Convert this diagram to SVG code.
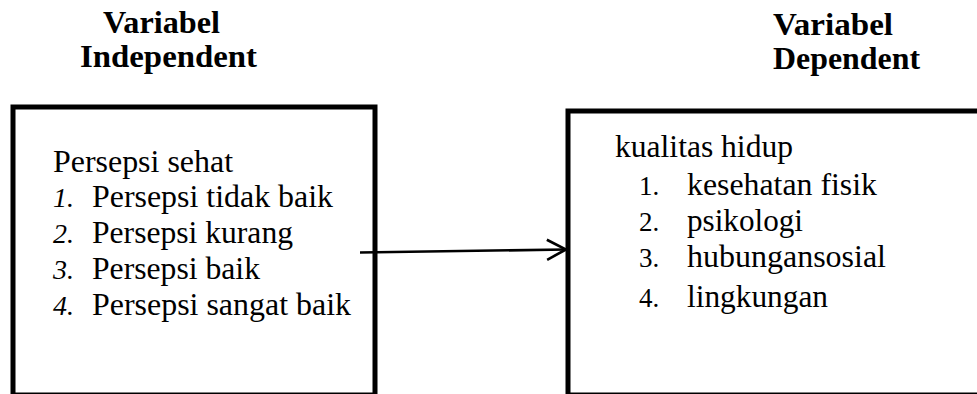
<svg xmlns="http://www.w3.org/2000/svg" width="977" height="394" viewBox="0 0 977 394">
  <style>
    .box { fill: none; stroke: #000; stroke-width: 5; }
    text { font-family: "Liberation Serif", "Times New Roman", serif; fill: #000; }
    .head { font-weight: bold; font-size: 32px; }
    .txt { font-size: 32px; }
    .num { font-size: 28px; font-style: italic; }
    .num2 { font-size: 27px; }
    .link { fill: none; stroke: #000; stroke-width: 2.6; }
  </style>
  <defs>
    <marker id="chev" markerUnits="userSpaceOnUse" viewBox="-22 -12 24 24" markerWidth="24" markerHeight="24" refX="0" refY="0" orient="auto" overflow="visible">
      <path d="M -19 -10 L 0 0 L -19 10" fill="none" stroke="#000" stroke-width="2.6"/>
    </marker>
  </defs>
  <rect width="977" height="394" fill="#fff"/>

  <!-- column headings -->
  <g id="heading-independent">
    <text class="head" x="103" y="33" textLength="117" lengthAdjust="spacingAndGlyphs">Variabel</text>
    <text class="head" x="80" y="67" textLength="177" lengthAdjust="spacingAndGlyphs">Independent</text>
  </g>
  <g id="heading-dependent">
    <text class="head" x="773" y="35" textLength="120" lengthAdjust="spacingAndGlyphs">Variabel</text>
    <text class="head" x="773" y="69" textLength="147" lengthAdjust="spacingAndGlyphs">Dependent</text>
  </g>

  <!-- independent variable box -->
  <g id="node-persepsi">
    <rect class="box" x="13" y="107" width="362" height="288"/>
    <text class="txt" x="53" y="172" textLength="180" lengthAdjust="spacingAndGlyphs">Persepsi sehat</text>
    <text class="num" x="53" y="207">1.</text>
    <text class="txt" x="92" y="207" textLength="241" lengthAdjust="spacingAndGlyphs">Persepsi tidak baik</text>
    <text class="num" x="53" y="243">2.</text>
    <text class="txt" x="92" y="243" textLength="201" lengthAdjust="spacingAndGlyphs">Persepsi kurang</text>
    <text class="num" x="53" y="279">3.</text>
    <text class="txt" x="92" y="279" textLength="168" lengthAdjust="spacingAndGlyphs">Persepsi baik</text>
    <text class="num" x="53" y="315">4.</text>
    <text class="txt" x="92" y="315" textLength="259" lengthAdjust="spacingAndGlyphs">Persepsi sangat baik</text>
  </g>

  <!-- dependent variable box (runs past the right edge) -->
  <g id="node-kualitas">
    <rect class="box" x="568" y="111" width="430" height="284"/>
    <text class="txt" x="615" y="157" textLength="178" lengthAdjust="spacingAndGlyphs">kualitas hidup</text>
    <text class="num2" x="639" y="195">1.</text>
    <text class="txt" x="687" y="195" textLength="190" lengthAdjust="spacingAndGlyphs">kesehatan fisik</text>
    <text class="num2" x="639" y="231">2.</text>
    <text class="txt" x="687" y="231" textLength="116" lengthAdjust="spacingAndGlyphs">psikologi</text>
    <text class="num2" x="639" y="267">3.</text>
    <text class="txt" x="687" y="267" textLength="199" lengthAdjust="spacingAndGlyphs">hubungansosial</text>
    <text class="num2" x="639" y="307">4.</text>
    <text class="txt" x="687" y="307" textLength="141" lengthAdjust="spacingAndGlyphs">lingkungan</text>
  </g>

  <!-- connectors -->
  <g id="connectors">
    <line class="link" x1="360" y1="252.5" x2="566" y2="249.5" marker-end="url(#chev)"/>
  </g>
</svg>
